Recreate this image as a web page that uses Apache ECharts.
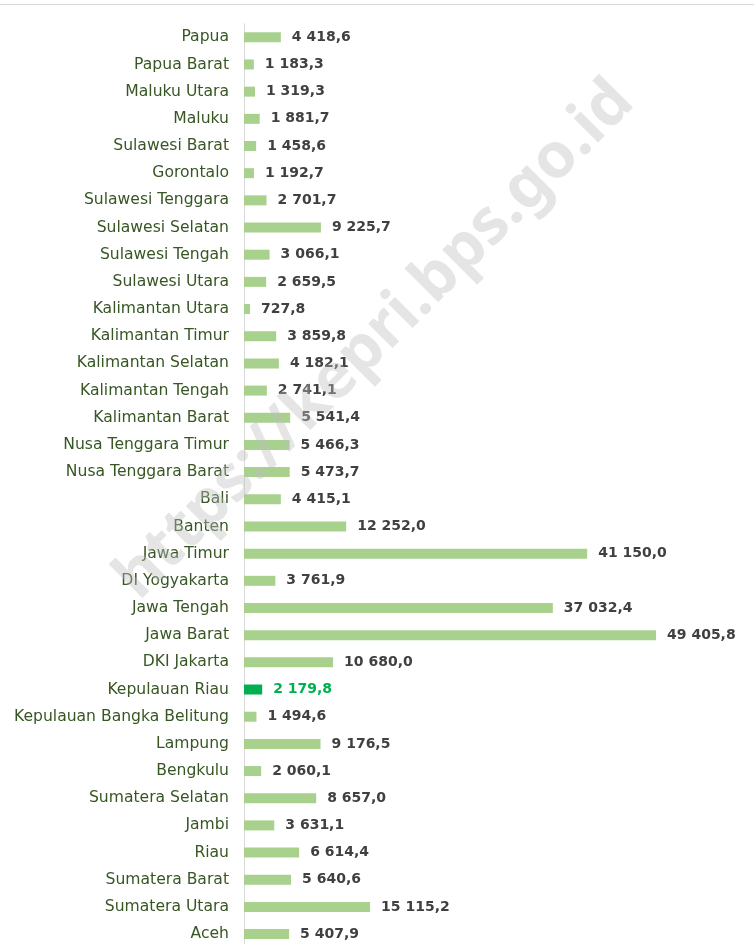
<!DOCTYPE html>
<html>
<head>
<meta charset="utf-8">
<script src="https://cdn.jsdelivr.net/npm/echarts@6/dist/echarts.min.js"></script>
<style>html,body{margin:0;padding:0;background:#fff;}#c{width:754px;height:944px;}</style>
</head>
<body>
<div id="c"></div>
<script>
// Categories listed bottom (Aceh) to top (Papua)
var provinces = ['Aceh','Sumatera Utara','Sumatera Barat','Riau','Jambi','Sumatera Selatan','Bengkulu','Lampung','Kepulauan Bangka Belitung','Kepulauan Riau','DKI Jakarta','Jawa Barat','Jawa Tengah','DI Yogyakarta','Jawa Timur','Banten','Bali','Nusa Tenggara Barat','Nusa Tenggara Timur','Kalimantan Barat','Kalimantan Tengah','Kalimantan Selatan','Kalimantan Timur','Kalimantan Utara','Sulawesi Utara','Sulawesi Tengah','Sulawesi Selatan','Sulawesi Tenggara','Gorontalo','Sulawesi Barat','Maluku','Maluku Utara','Papua Barat','Papua'];
var values = [5407.9,15115.2,5640.6,6614.4,3631.1,8657.0,2060.1,9176.5,1494.6,2179.8,10680.0,49405.8,37032.4,3761.9,41150.0,12252.0,4415.1,5473.7,5466.3,5541.4,2741.1,4182.1,3859.8,727.8,2659.5,3066.1,9225.7,2701.7,1192.7,1458.6,1881.7,1319.3,1183.3,4418.6];
var highlight = 'Kepulauan Riau';
var watermark = 'https://kepri.bps.go.id';

function fmt(v){
  var s = v.toFixed(1).split('.');
  var i = s[0].replace(/\B(?=(\d{3})+(?!\d))/g,' ');
  return i + ',' + s[1];
}
var FONT = 'DejaVu Sans';
var chart = echarts.init(document.getElementById('c'), null, {renderer:'canvas'});
chart.setOption({
  backgroundColor:'#ffffff',
  animation:false,
  grid:{left:244, right:93, top:23.7, height:924, containLabel:false, outerBoundsMode:'none'},
  xAxis:{type:'value', min:0, max:50000, show:false},
  yAxis:{type:'category', data:provinces,
    axisLine:{show:true, lineStyle:{color:'#d9d9d9', width:1}},
    axisTick:{show:false},
    axisLabel:{margin:15, fontFamily:FONT, fontSize:15.6, color:'#375623'}
  },
  series:[{
    type:'bar', barWidth:10,
    data: values.map(function(v,i){
      var hl = provinces[i]===highlight;
      return {value:v, itemStyle:{color: hl ? '#00b050' : '#a9d18e'},
        label:{color: hl ? '#00b050' : '#404040'}};
    }),
    label:{show:true, position:'right', distance:11, fontFamily:FONT, fontWeight:'bold', fontSize:14,
      formatter:function(p){return fmt(p.value);}}
  }],
  graphic:[
    {type:'line', shape:{x1:0,y1:4.5,x2:754,y2:4.5}, style:{stroke:'#d9d9d9', lineWidth:1}, z:10},
    {type:'text', x:375, y:340, rotation:Math.PI/4, z:100,
      style:{text:watermark, fontFamily:'Noto Sans', fontWeight:'bold', fontSize:63, fill:'rgba(190,190,190,0.4)', align:'center', verticalAlign:'middle'}}
  ]
});
</script>
</body>
</html>
